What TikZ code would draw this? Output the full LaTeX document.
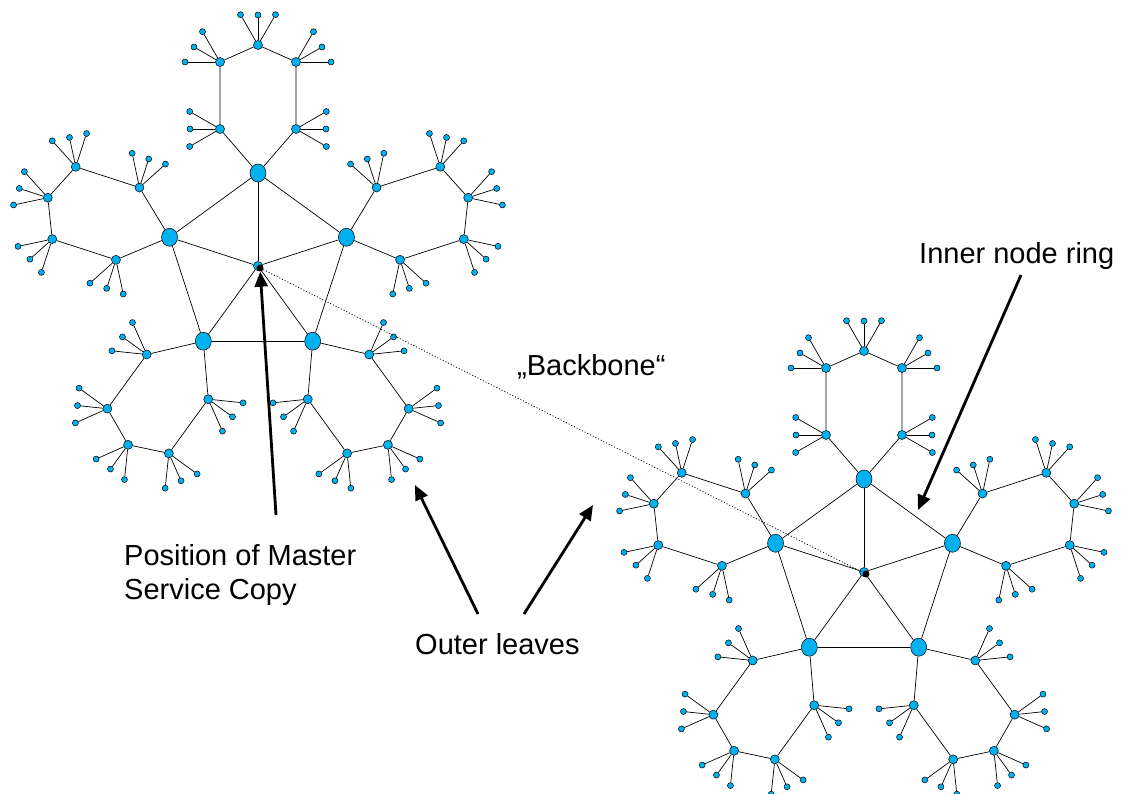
\documentclass[tikz,border=0pt]{standalone}
\usepackage{fontspec}
\setmainfont{Liberation Sans}
\usetikzlibrary{shapes.geometric, arrows.meta}
\definecolor{nodeblue}{RGB}{0, 176, 240}
\tikzstyle{hub} = [ellipse, draw=black, fill=nodeblue, minimum width=16pt,
                   minimum height=18pt, inner sep=0pt, line width=0.5pt]
\tikzstyle{mid} = [circle, draw=black, fill=nodeblue, minimum size=9pt,
                   inner sep=0pt, line width=0.5pt]
\tikzstyle{leaf} = [circle, draw=black, fill=nodeblue, minimum size=6pt,
                    inner sep=0pt, line width=0.5pt]
\tikzstyle{core} = [circle, fill=black, minimum size=7pt, inner sep=0pt]
\tikzstyle{link} = [line width=0.7pt]
\tikzstyle{backbone} = [line width=0.8pt, dash pattern=on 1pt off 2pt]
\tikzstyle{arrow} = [line width=2.8pt, -{Triangle[length=15pt, width=13pt]}]
\tikzstyle{label} = [inner sep=0pt, font=\fontsize{29}{34}\selectfont]

\begin{document}
\begin{tikzpicture}[x=1pt, y=1pt]
    \useasboundingbox (0,0) rectangle (1125,-794);

    % two overlay graphs, same shape
    \foreach \g/\cx/\cy in {L/258/-266, R/864/-572} {
      \begin{scope}[shift={(\cx,\cy)}]
        \node[mid] (\g) at (0,0) {};
        \node[core] (\g dot) at (2,-2) {};
        \foreach \k in {0,...,4} {
          \pgfmathsetmacro\ang{90+72*\k}
          \node[hub] (\g\k) at (\ang:93) {};
          \draw[link] (\g) -- (\g\k);
          \begin{scope}[shift={(\ang:93)}, rotate=\ang-90]
            \foreach \j/\mx/\my/\d in {1/-38/44/180, 2/-38/111/150, 3/0/128/90,
                                       4/38/111/30, 5/38/44/0} {
              \begin{scope}[shift={(\mx,\my)}]
                \node[mid] (\g\k m\j) at (0,0) {};
                \foreach \l/\r [count=\i] in {-30/35, 0/30, 30/35} {
                  \node[leaf] (\g\k m\j l\i) at ({\d+\l}:\r) {};
                  \draw[link] (\g\k m\j) -- (\g\k m\j l\i);
                }
              \end{scope}
            }
            \draw[link] (\g\k) -- (\g\k m1) -- (\g\k m2) -- (\g\k m3)
                        -- (\g\k m4) -- (\g\k m5) -- (\g\k);
          \end{scope}
        }
        % inner node ring
        \foreach \k in {0,...,4} {
          \pgfmathtruncatemacro\n{mod(\k+1,5)}
          \draw[link] (\g\k) -- (\g\n);
        }
      \end{scope}
    }

    \draw[backbone] (Ldot) -- (Rdot);

    \node[label, anchor=base west] (bbText) at (517,-376) {„Backbone“};
    \node[label, anchor=north west, align=left] (posText) at (124,-544)
        {Position of Master\\Service Copy};
    \node[label, anchor=base west] (leafText) at (415,-654) {Outer leaves};
    \node[label, anchor=base west] (ringText) at (919,-264) {Inner node ring};

    \coordinate (posTail) at (276,-515);
    \coordinate (leafTailA) at (478,-614);
    \coordinate (leafTailB) at (524,-614);
    \coordinate (leafTipA) at (415,-485);
    \coordinate (leafTipB) at (593,-505);
    \coordinate (ringTail) at (1021,-275);
    \coordinate (ringTip) at (918,-510);

    \draw[arrow] (posTail) -- (Ldot);
    \draw[arrow] (leafTailA) -- (leafTipA);
    \draw[arrow] (leafTailB) -- (leafTipB);
    \draw[arrow] (ringTail) -- (ringTip);

\end{tikzpicture}
\end{document}
